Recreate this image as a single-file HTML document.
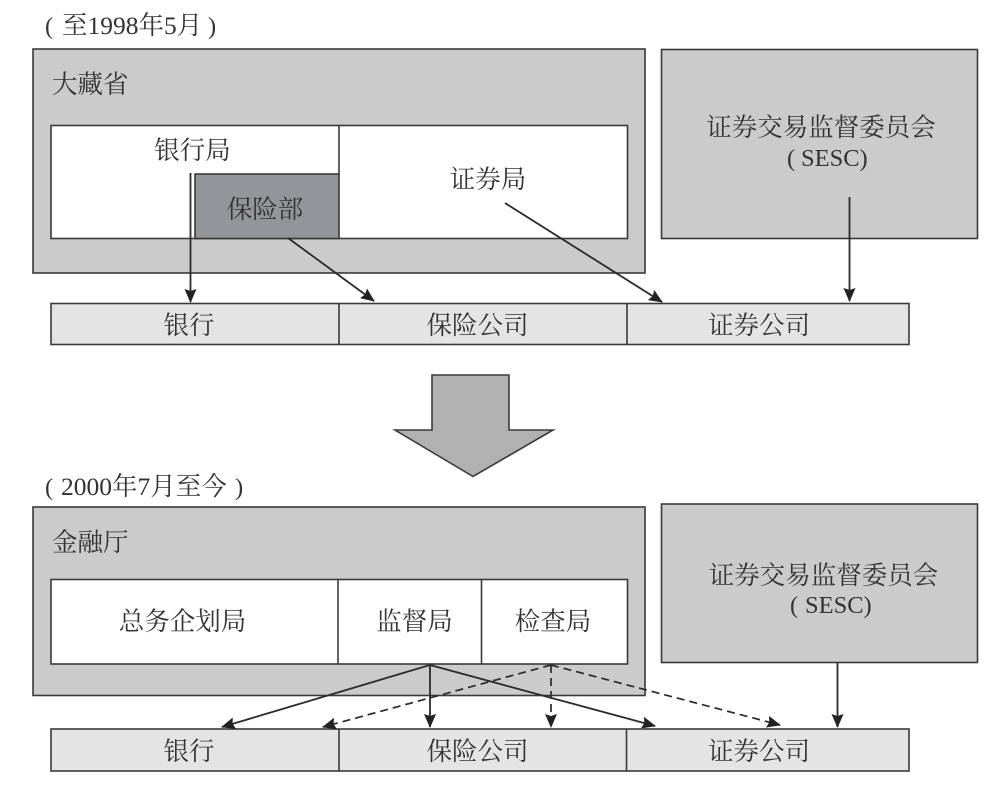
<!DOCTYPE html>
<html lang="zh">
<head>
<meta charset="utf-8">
<style>
html,body{margin:0;padding:0;background:#fff;width:1005px;height:786px;overflow:hidden}
svg{display:block}
text{font-family:"Liberation Serif","Noto Serif CJK SC",serif;font-size:25.5px;fill:#333;}
.c{text-anchor:middle}
.s{font-size:24.5px}
.b{stroke:#3a3a3a;stroke-width:1.6}
.l{stroke:#2a2a2a;stroke-width:1.8;fill:none}
.d{stroke:#2a2a2a;stroke-width:1.7;fill:none;stroke-dasharray:8 5}
.h{fill:#222;stroke:none}
</style>
</head>
<body>
<svg width="1005" height="786" viewBox="0 0 1005 786" xmlns="http://www.w3.org/2000/svg">
<defs>
<marker id="a" viewBox="0 0 14 12" refX="13" refY="6" markerWidth="14" markerHeight="12" markerUnits="userSpaceOnUse" orient="auto">
<path d="M0 0L14 6L0 12L2 6Z" class="h"/>
</marker>
</defs>

<!-- top section -->
<text x="45" y="34" class="s">(</text>
<text x="62" y="34">至1998年5月</text>
<text x="208" y="34" class="s">)</text>

<rect x="33" y="49" width="612" height="224" fill="#cbcbcb" class="b"/>
<text x="52" y="93">大藏省</text>
<rect x="51" y="125.5" width="576.5" height="113" fill="#fff" class="b"/>
<line x1="339" y1="125.5" x2="339" y2="174" class="b"/>
<rect x="195" y="174" width="144" height="64.5" fill="#939598" class="b"/>
<text x="192.5" y="159" class="c">银行局</text>
<text x="265" y="218" class="c">保险部</text>
<text x="488" y="188" class="c">证券局</text>

<rect x="661.5" y="49.5" width="316" height="189" fill="#cbcbcb" class="b"/>
<text x="821" y="136" class="c">证券交易监督委员会</text>
<text x="787" y="166" class="s">(</text>
<text x="801" y="166" class="s">SESC)</text>

<rect x="51" y="303.5" width="858" height="41" fill="#e4e4e4" class="b"/>
<line x1="339" y1="303.5" x2="339" y2="344.5" class="b"/>
<line x1="627" y1="303.5" x2="627" y2="344.5" class="b"/>
<text x="189" y="334" class="c">银行</text>
<text x="477.5" y="334" class="c">保险公司</text>
<text x="759" y="334" class="c">证券公司</text>

<line x1="190.5" y1="173" x2="190.5" y2="302" class="l" marker-end="url(#a)"/>
<line x1="288" y1="238" x2="374" y2="301" class="l" marker-end="url(#a)"/>
<line x1="505" y1="203" x2="662" y2="302" class="l" marker-end="url(#a)"/>
<line x1="849.5" y1="197" x2="849.5" y2="301" class="l" marker-end="url(#a)"/>

<!-- big arrow -->
<polygon points="432,375 509,375 509,430 553,430 473,476.5 395,430 432,430" fill="#b1b1b1" class="b"/>

<!-- bottom section -->
<text x="45" y="495" class="s">(</text>
<text x="61" y="495">2000年7月至今</text>
<text x="235" y="495" class="s">)</text>

<rect x="33" y="507" width="612" height="188.5" fill="#cbcbcb" class="b"/>
<text x="52" y="551">金融厅</text>
<rect x="51" y="579.5" width="576.5" height="84.5" fill="#fff" class="b"/>
<line x1="338" y1="579.5" x2="338" y2="664" class="b"/>
<line x1="481.5" y1="579.5" x2="481.5" y2="664" class="b"/>
<text x="182.5" y="630" class="c">总务企划局</text>
<text x="414.5" y="630" class="c">监督局</text>
<text x="553" y="630" class="c">检查局</text>

<rect x="661.5" y="504" width="316" height="158.5" fill="#cbcbcb" class="b"/>
<text x="823.5" y="584" class="c">证券交易监督委员会</text>
<text x="790" y="613" class="s">(</text>
<text x="805" y="613" class="s">SESC)</text>

<rect x="51" y="729" width="858" height="42" fill="#e4e4e4" class="b"/>
<line x1="339" y1="729" x2="339" y2="771" class="b"/>
<line x1="626.5" y1="729" x2="626.5" y2="771" class="b"/>
<text x="189" y="760" class="c">银行</text>
<text x="477.5" y="760" class="c">保险公司</text>
<text x="759" y="760" class="c">证券公司</text>

<line x1="430" y1="665" x2="222" y2="727" class="l" marker-end="url(#a)"/>
<line x1="430" y1="665" x2="430" y2="727" class="l" marker-end="url(#a)"/>
<line x1="430" y1="665" x2="655" y2="726" class="l" marker-end="url(#a)"/>
<line x1="551" y1="665" x2="323" y2="727" class="d" marker-end="url(#a)"/>
<line x1="551" y1="665" x2="551" y2="727" class="d" marker-end="url(#a)"/>
<line x1="551" y1="665" x2="780" y2="725" class="d" marker-end="url(#a)"/>
<line x1="837.5" y1="663" x2="837.5" y2="727" class="l" marker-end="url(#a)"/>
</svg>
</body>
</html>
